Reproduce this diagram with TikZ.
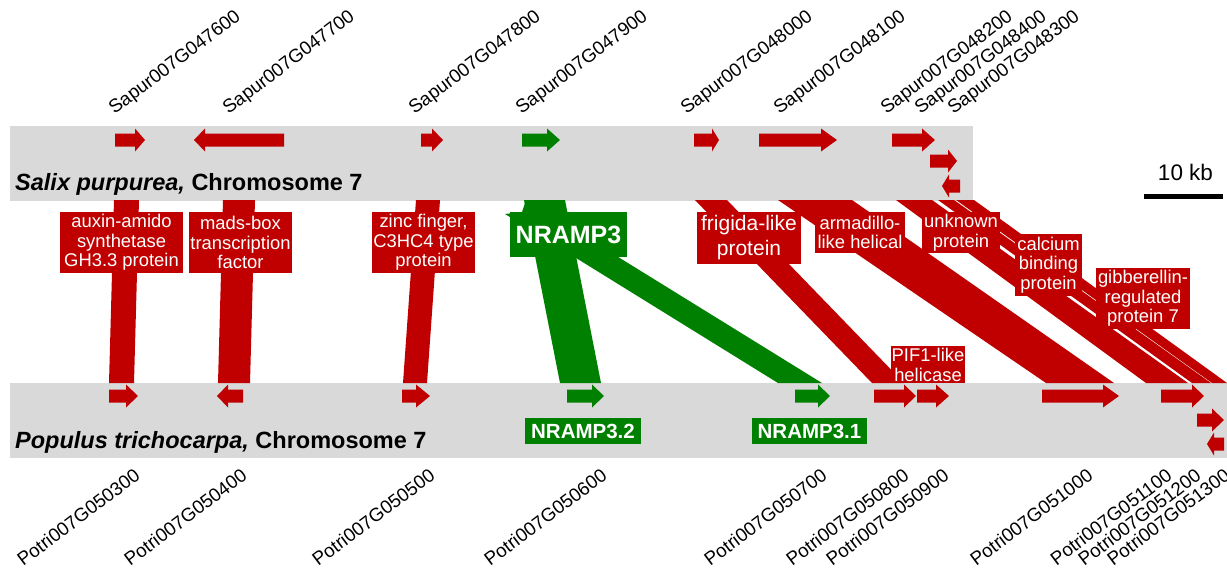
\documentclass[tikz,border=0pt]{standalone}
\usepackage{fontspec}
\setmainfont{Liberation Sans}
\definecolor{gred}{HTML}{C00000}
\definecolor{ggreen}{HTML}{008000}
\definecolor{gband}{HTML}{D9D9D9}
\newcommand\rgene[5]{\fill[#5] (#1,{#3-6.5}) -- ({#2-#4},{#3-6.5}) -- ({#2-#4},{#3-11.5}) -- (#2,#3) -- ({#2-#4},{#3+11.5}) -- ({#2-#4},{#3+6.5}) -- (#1,{#3+6.5}) -- cycle;}
\newcommand\lgene[5]{\fill[#5] (#2,{#3-6.5}) -- ({#1+#4},{#3-6.5}) -- ({#1+#4},{#3-11.5}) -- (#1,#3) -- ({#1+#4},{#3+11.5}) -- ({#1+#4},{#3+6.5}) -- (#2,{#3+6.5}) -- cycle;}
\newcommand\band[5]{\fill[#5] (#1,200) -- (#2,200) -- (#4,383) -- (#3,383) -- cycle;}
\begin{document}
\begin{tikzpicture}[x=1pt,y=-1pt,
  rlab/.style={fill=gred,text=white,inner sep=1pt,align=center,font=\fontsize{18.4}{19.5}\selectfont},
  glab/.style={fill=ggreen,text=white,inner sep=1.5pt,font=\bfseries\fontsize{20.5}{22}\selectfont},
  toplab/.style={rotate=37,anchor=south west,inner sep=0pt,font=\fontsize{18.8}{20}\selectfont},
  botlab/.style={rotate=37,anchor=north east,inner sep=0pt,font=\fontsize{18.8}{20}\selectfont},
  title/.style={anchor=base west,inner sep=0pt,font=\bfseries\fontsize{23.5}{25}\selectfont}]
\useasboundingbox (0,0) rectangle (1227,568);
% chromosome bands
\fill[gband] (10,126) rectangle (973,200.5);
\fill[gband] (10,383) rectangle (1227,458);
% comparison bands
\band{114}{139}{109}{134}{gred}
\band{223}{255}{218}{250}{gred}
\band{416}{440}{403}{427}{gred}
\fill[ggreen] (526,200) -- (822,383) -- (778,383) -- (505,214) -- (522,212) -- cycle;
\band{524}{565}{560}{601}{ggreen}
\band{695}{727}{872}{904}{gred}
\band{778}{852}{1046}{1114}{gred}
\band{896}{932}{1146}{1188}{gred}
\band{938}{954}{1192}{1211}{gred}
\band{956}{974}{1212}{1227}{gred}
% top genes
\rgene{115}{145}{140}{10}{gred}
\lgene{194}{284}{140}{11}{gred}
\rgene{421}{443}{140}{11}{gred}
\rgene{522}{560}{140}{13}{ggreen}
\rgene{694}{719}{140}{7}{gred}
\rgene{759}{837}{140}{16}{gred}
\rgene{892}{935}{140}{13}{gred}
\rgene{930}{957}{161}{9}{gred}
\lgene{942}{960}{186}{7}{gred}
% bottom genes
\rgene{109}{138}{396}{12}{gred}
\lgene{217}{243}{396}{11}{gred}
\rgene{402}{430}{396}{14}{gred}
\rgene{567}{604}{396}{12}{ggreen}
\rgene{795}{830}{396}{12}{ggreen}
\rgene{874}{916}{396}{12}{gred}
\rgene{917}{949}{396}{13}{gred}
\rgene{1042}{1119}{396}{16}{gred}
\rgene{1161}{1204}{396}{12}{gred}
\rgene{1197}{1224}{420}{12}{gred}
\lgene{1207}{1224}{444}{7}{gred}
% titles
\node[title] (t1) at (15,190) {\textit{Salix purpurea,} Chromosome 7};
\node[title] (t2) at (15,448) {\textit{Populus trichocarpa,} Chromosome 7};
% scale bar
\node[anchor=base,inner sep=0pt,font=\fontsize{22.5}{24}\selectfont] (kb) at (1185.5,180) {10 kb};
\fill[black] (1144,194) rectangle (1223,199);
% top labels
\node[toplab] (s1) at (117,118) {Sapur007G047600};
\node[toplab] (s2) at (231,118) {Sapur007G047700};
\node[toplab] (s3) at (417,118) {Sapur007G047800};
\node[toplab] (s4) at (524,118) {Sapur007G047900};
\node[toplab] (s5) at (689,118) {Sapur007G048000};
\node[toplab] (s6) at (782,118) {Sapur007G048100};
\node[toplab] (s7) at (889,118) {Sapur007G048200};
\node[toplab] (s8) at (923,118) {Sapur007G048400};
\node[toplab] (s9) at (956,118) {Sapur007G048300};
% bottom labels
\node[botlab] (p1) at (133,467) {Potri007G050300};
\node[botlab] (p2) at (240,467) {Potri007G050400};
\node[botlab] (p3) at (428,467) {Potri007G050500};
\node[botlab] (p4) at (600,467) {Potri007G050600};
\node[botlab] (p5) at (820,467) {Potri007G050700};
\node[botlab] (p6) at (902,467) {Potri007G050800};
\node[botlab] (p7) at (942,467) {Potri007G050900};
\node[botlab] (p8) at (1086,467) {Potri007G051000};
\node[botlab] (p9) at (1165,467) {Potri007G051100};
\node[botlab] (p10) at (1194,467) {Potri007G051200};
\node[botlab] (p11) at (1223,467) {Potri007G051300};
% annotation labels
\node[rlab,minimum width=123pt,minimum height=61pt] (a1) at (121.5,242.5) {auxin-amido\\synthetase\\GH3.3 protein};
\node[rlab,minimum width=103pt,minimum height=61pt] (a2) at (240.5,242.5) {mads-box\\transcription\\factor};
\node[rlab,minimum width=103pt,minimum height=61pt] (a3) at (423.5,242.5) {zinc finger,\\C3HC4 type\\protein};
\node[glab,font=\bfseries\fontsize{25}{27}\selectfont,minimum width=117pt,minimum height=45pt] (a4) at (568.5,234.5) {NRAMP3};
\node[rlab,font=\fontsize{21}{25}\selectfont,minimum width=104pt,minimum height=52pt] (a5) at (749,238) {frigida-like\\protein};
\node[rlab,minimum width=90pt,minimum height=41pt] (a6) at (860,232.5) {armadillo-\\like helical};
\node[rlab,minimum width=78pt,minimum height=41pt] (a7) at (961,232.5) {unknown\\protein};
\node[rlab,minimum width=67pt,minimum height=62pt] (a8) at (1048.5,265) {calcium\\binding\\protein};
\node[rlab,minimum width=94pt,minimum height=61pt] (a9) at (1143,298.5) {gibberellin-\\regulated\\protein 7};
\node[rlab,minimum width=74pt,minimum height=37pt,anchor=north] (a10) at (928,346) {PIF1-like\\helicase};
\node[glab,minimum width=116pt,minimum height=26pt] (a11) at (583,431) {NRAMP3.2};
\node[glab,minimum width=115pt,minimum height=26pt] (a12) at (809.5,431) {NRAMP3.1};
\end{tikzpicture}
\end{document}
